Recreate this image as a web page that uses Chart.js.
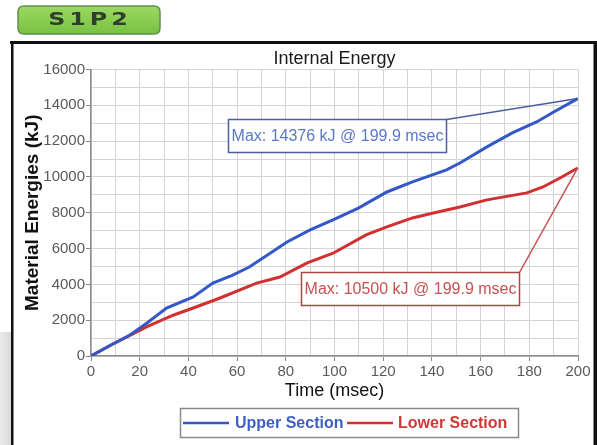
<!DOCTYPE html>
<html>
<head>
<meta charset="utf-8">
<script src="https://cdn.jsdelivr.net/npm/chart.js@4.4.1/dist/chart.umd.min.js"></script>
<style>
html,body{margin:0;padding:0;background:#ffffff;}
#wrap{position:relative;width:597px;height:445px;overflow:hidden;}
canvas{display:block;}
</style>
</head>
<body>
<div id="wrap"><canvas id="c" width="597" height="445"></canvas></div>
<script>
// ---------- data ----------
const seriesNames = ['Upper Section', 'Lower Section'];
const upperTime   = [0, 8, 16, 23, 31, 42, 50, 58, 65, 72, 80.5, 90, 99.4, 110, 121.5, 132, 146, 151.5, 162.6, 173, 183, 190, 199.9];
const upperEnergy = [0, 600, 1170, 1840, 2680, 3300, 4070, 4500, 4970, 5600, 6370, 7040, 7600, 8270, 9160, 9720, 10390, 10780, 11680, 12460, 13070, 13630, 14376];
const lowerTime   = [0, 8, 16, 23, 34, 42, 53, 68, 77.6, 88.6, 99.4, 113, 121.5, 132, 140.6, 151.5, 162.6, 179, 185.6, 192.6, 199.9];
const lowerEnergy = [0, 600, 1150, 1640, 2290, 2680, 3240, 4070, 4410, 5190, 5740, 6760, 7210, 7710, 7990, 8320, 8720, 9110, 9440, 9940, 10500];
const xTickLabels = [0, 20, 40, 60, 80, 100, 120, 140, 160, 180, 200];
const yTickLabels = [0, 2000, 4000, 6000, 8000, 10000, 12000, 14000, 16000];
const chartTitle = 'Internal Energy';
const xTitle = 'Time (msec)';
const yTitle = 'Material Energies (kJ)';
const badgeText = 'S1P2';

// ---------- font helpers ----------
function hasFont(name){
  const c = document.createElement('canvas').getContext('2d');
  const s = 'MaxW 14376 kJ abc';
  c.font = '40px monospace'; const a = c.measureText(s).width;
  c.font = '40px "' + name + '", monospace'; const b = c.measureText(s).width;
  return Math.abs(a - b) > 0.5;
}
const narrowOK = hasFont('Liberation Sans Narrow');
const NARROW = narrowOK ? '"Liberation Sans Narrow", "Liberation Sans", Arial, sans-serif' : '"Liberation Sans", Arial, sans-serif';
const SANS = '"Liberation Sans", Arial, sans-serif';
const tickSize = narrowOK ? 17 : 15;
const noteSize = narrowOK ? 19 : 16;

const COLORS = ['#3558c8', '#d23030'];
const TEXTCOL = ['#3f60c2', '#d03838'];
const NOTE = [
  {x: 228.5, y: 119.5, w: 218, h: 33, stroke: '#4a5f9e', text: '#5a78c8', lead: '#4a5f9e'},
  {x: 301.5, y: 272.5, w: 218, h: 33, stroke: '#b04444', text: '#c85050', lead: '#c85050'}
];

function toPoints(t, v){ return t.map((x, i) => ({x: x, y: v[i]})); }

const decor = {
  id: 'decor',
  beforeDraw(chart){
    const ctx = chart.ctx;
    ctx.save();
    ctx.fillStyle = '#ffffff';
    ctx.fillRect(0, 0, chart.width, chart.height);
    // gray strip at the left bottom
    const g = ctx.createLinearGradient(0, 0, 11, 0);
    g.addColorStop(0, '#ebebeb'); g.addColorStop(1, '#d8d8d8');
    ctx.fillStyle = g;
    ctx.fillRect(0, 332, 11, 113);
    // black frame
    ctx.fillStyle = '#111111';
    ctx.fillRect(10, 41, 587, 3);
    ctx.fillRect(11, 41, 2.5, 404);
    ctx.fillRect(593.5, 41, 3.5, 404);
    // badge
    const bx = 18, by = 6, bw = 142, bh = 28, r = 6;
    const gg = ctx.createLinearGradient(0, by, 0, by + bh);
    gg.addColorStop(0, '#9cd862'); gg.addColorStop(1, '#78c242');
    ctx.beginPath();
    ctx.moveTo(bx + r, by); ctx.lineTo(bx + bw - r, by); ctx.quadraticCurveTo(bx + bw, by, bx + bw, by + r);
    ctx.lineTo(bx + bw, by + bh - r); ctx.quadraticCurveTo(bx + bw, by + bh, bx + bw - r, by + bh);
    ctx.lineTo(bx + r, by + bh); ctx.quadraticCurveTo(bx, by + bh, bx, by + bh - r);
    ctx.lineTo(bx, by + r); ctx.quadraticCurveTo(bx, by, bx + r, by);
    ctx.closePath();
    ctx.fillStyle = gg; ctx.fill();
    ctx.strokeStyle = '#5f8f4a'; ctx.lineWidth = 1.5; ctx.stroke();
    ctx.font = 'bold 18px "DejaVu Sans", sans-serif';
    ctx.fillStyle = '#2e3d30';
    ctx.textBaseline = 'middle'; ctx.textAlign = 'left';
    const sx = 1.32, sp = 4;
    const chars = badgeText.split('');
    const widths = chars.map(ch => ctx.measureText(ch).width * sx);
    const total = widths.reduce((a, b) => a + b, 0) + sp * (chars.length - 1);
    let cx = 88 - total / 2;
    chars.forEach((ch, i) => {
      ctx.save(); ctx.translate(cx, 20.5); ctx.scale(sx, 1); ctx.fillText(ch, 0, 0); ctx.restore();
      cx += widths[i] + sp;
    });
    ctx.restore();
  },
  afterDatasetsDraw(chart){
    const ctx = chart.ctx;
    const xs = chart.scales.x, ys = chart.scales.y;
    ctx.save();
    chart.data.datasets.forEach((ds, i) => {
      let mi = 0;
      ds.data.forEach((p, k) => { if (p.y > ds.data[mi].y) mi = k; });
      const p = ds.data[mi];
      const px = xs.getPixelForValue(p.x), py = ys.getPixelForValue(p.y);
      const n = NOTE[i];
      ctx.strokeStyle = n.lead; ctx.lineWidth = 1.5;
      ctx.beginPath(); ctx.moveTo(n.x + n.w, n.y); ctx.lineTo(px, py); ctx.stroke();
      ctx.fillStyle = '#ffffff';
      ctx.fillRect(n.x, n.y, n.w, n.h);
      ctx.strokeStyle = n.stroke; ctx.lineWidth = 1.5;
      ctx.strokeRect(n.x, n.y, n.w, n.h);
      ctx.fillStyle = n.text;
      ctx.font = noteSize + 'px ' + NARROW;
      ctx.textAlign = 'center'; ctx.textBaseline = 'middle';
      ctx.fillText('Max: ' + p.y + ' kJ @ ' + p.x + ' msec', n.x + n.w / 2, n.y + n.h / 2 + 1);
    });
    // legend
    const lx = 180.5, ly = 408.5, lw = 338, lh = 29;
    ctx.strokeStyle = '#8a8a8a'; ctx.lineWidth = 1.5;
    ctx.strokeRect(lx, ly, lw, lh);
    const items = [{x0: 183, x1: 229, tx: 235}, {x0: 347, x1: 393, tx: 398}];
    ctx.font = 'bold 16px ' + SANS;
    ctx.textAlign = 'left'; ctx.textBaseline = 'middle';
    chart.data.datasets.forEach((ds, i) => {
      const it = items[i];
      ctx.strokeStyle = ds.borderColor; ctx.lineWidth = 2.5;
      ctx.beginPath(); ctx.moveTo(it.x0, 423); ctx.lineTo(it.x1, 423); ctx.stroke();
      ctx.fillStyle = TEXTCOL[i];
      ctx.fillText(ds.label, it.tx, 423.5);
    });
    ctx.restore();
  }
};

const gridColor = '#d4d4d4';

new Chart(document.getElementById('c'), {
  type: 'line',
  data: {
    datasets: [
      {label: seriesNames[0], data: toPoints(upperTime, upperEnergy), borderColor: COLORS[0], borderWidth: 3, pointRadius: 0, tension: 0, fill: false},
      {label: seriesNames[1], data: toPoints(lowerTime, lowerEnergy), borderColor: COLORS[1], borderWidth: 3, pointRadius: 0, tension: 0, fill: false}
    ]
  },
  options: {
    responsive: false,
    animation: false,
    devicePixelRatio: 1,
    layout: {padding: {left: 13, right: 19, top: 47.9, bottom: 41.2}},
    plugins: {
      legend: {display: false},
      tooltip: {enabled: false},
      title: {display: true, text: chartTitle, fullSize: false, align: 'center', color: '#1a1a1a',
              font: {family: SANS, size: 18, weight: 'normal'}, padding: {top: 0, bottom: 0}}
    },
    scales: {
      x: {
        type: 'linear', min: 0, max: 200,
        afterFit(s){ s.height = 47.8; },
        afterBuildTicks(s){ s.ticks = []; for (let v = 0; v <= 200; v += 10) s.ticks.push({value: v}); },
        ticks: {
          autoSkip: false, maxRotation: 0, padding: 2, color: '#5a5a5a',
          font: {family: NARROW, size: tickSize},
          callback: (v) => xTickLabels.includes(v) ? String(v) : ''
        },
        grid: {
          color: gridColor, lineWidth: 1, tickLength: 5,
          tickColor: (c) => (c.tick && xTickLabels.includes(c.tick.value)) ? '#888888' : 'rgba(0,0,0,0)'
        },
        border: {display: true, color: '#8c8c8c', width: 1.5},
        title: {display: true, text: xTitle, color: '#111111', font: {family: SANS, size: 18}, padding: {top: 0, bottom: 2}}
      },
      y: {
        type: 'linear', min: 0, max: 16000,
        afterFit(s){ s.width = 78; },
        afterBuildTicks(s){ s.ticks = []; for (let v = 0; v <= 16000; v += 1000) s.ticks.push({value: v}); },
        ticks: {
          autoSkip: false, padding: 1, color: '#5a5a5a',
          font: {family: NARROW, size: tickSize},
          callback: (v) => yTickLabels.includes(v) ? String(v) : ''
        },
        grid: {
          color: gridColor, lineWidth: 1, tickLength: 5,
          tickColor: (c) => (c.tick && yTickLabels.includes(c.tick.value)) ? '#888888' : 'rgba(0,0,0,0)'
        },
        border: {display: true, color: '#8c8c8c', width: 1.5},
        title: {display: true, text: yTitle, color: '#111111', font: {family: SANS, size: 19, weight: 'bold'}, padding: {top: 8, bottom: 0}}
      }
    }
  },
  plugins: [decor]
});
</script>
</body>
</html>
